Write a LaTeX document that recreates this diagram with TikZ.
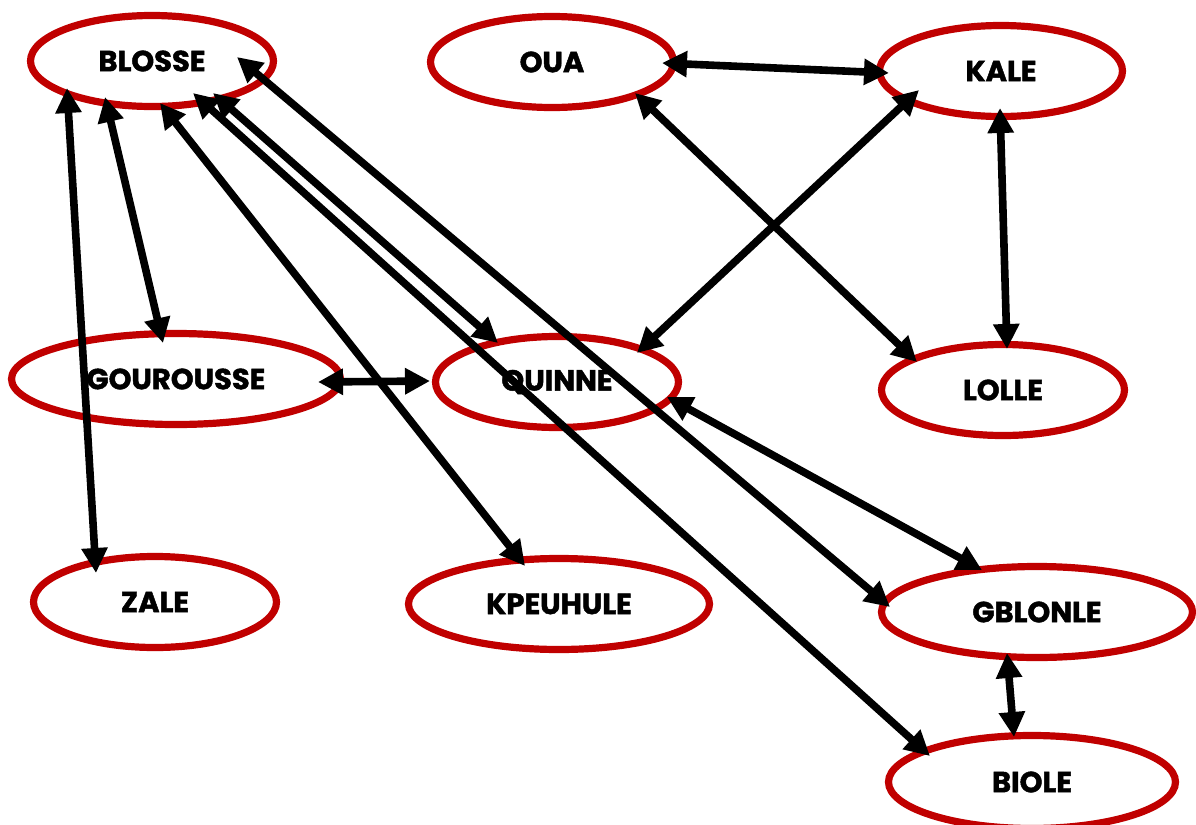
\documentclass[tikz,border=0pt]{standalone}
\usepackage{fontspec}
\setmainfont{Poppins}[BoldFeatures={FakeBold=1.6}]
\usetikzlibrary{arrows.meta,shapes.geometric}
\definecolor{ellred}{HTML}{C00000}
\begin{document}
\begin{tikzpicture}[x=0.5pt,y=-0.5pt,
  ell/.style={ellipse,draw=ellred,line width=3.6pt,inner sep=0pt,
    minimum width=121.5pt,minimum height=45.5pt,
    font=\fontsize{14.5}{16}\selectfont\bfseries},
  link/.style={line width=3.8pt,
    {Triangle[length=12.5pt,width=12.5pt]}-{Triangle[length=12.5pt,width=12.5pt]}}]
\useasboundingbox (0,0) rectangle (1196,825);
\node[ell] (blosse) at (152,61) {BLOSSE};
\node[ell] (oua) at (552,62) {OUA};
\node[ell] (kale) at (1001,71) {KALE};
\node[ell,minimum width=164.5pt] (gourousse) at (176,379) {GOUROUSSE};
\node[ell] (quinne) at (557,382) {QUINNE};
\node[ell] (lolle) at (1003,390) {LOLLE};
\node[ell] (zale) at (155,602) {ZALE};
\node[ell,minimum width=150.5pt] (kpeuhule) at (559,604) {KPEUHULE};
\node[ell,minimum width=155.5pt] (gblonle) at (1037,612) {GBLONLE};
\node[ell,minimum width=143.5pt,minimum height=46.5pt] (biole) at (1032,782) {BIOLE};
\draw[link] ([shift={(-85,27)}]blosse.center) -- ([shift={(-59,-29)}]zale.center);
\draw[link] ([shift={(-47,36)}]blosse.center) -- ([shift={(-13,-36)}]gourousse.center);
\draw[link] ([shift={(8,42)}]blosse.center) -- ([shift={(-34,-38)}]kpeuhule.center);
\draw[link] ([shift={(41,32)}]blosse.center) -- ([shift={(-102,-26)}]biole.center);
\draw[link] ([shift={(61,32)}]blosse.center) -- ([shift={(-59,-39)}]quinne.center);
\draw[link] ([shift={(85,-4)}]blosse.center) -- ([shift={(-147,-5)}]gblonle.center);
\draw[link] ([shift={(110,1)}]oua.center) -- ([shift={(-112,2)}]kale.center);
\draw[link] ([shift={(83,31)}]oua.center) -- ([shift={(-86,-28)}]lolle.center);
\draw[link] ([shift={(-82,19)}]kale.center) -- ([shift={(80,-29)}]quinne.center);
\draw[link] ([shift={(-1,37)}]kale.center) -- ([shift={(4,-41)}]lolle.center);
\draw[link] ([shift={(142,3)}]gourousse.center) -- ([shift={(-127,-1)}]quinne.center);
\draw[link] ([shift={(110,15)}]quinne.center) -- ([shift={(-55,-42)}]gblonle.center);
\draw[link] ([shift={(-30,41)}]gblonle.center) -- ([shift={(-18,-45)}]biole.center);
\end{tikzpicture}
\end{document}
